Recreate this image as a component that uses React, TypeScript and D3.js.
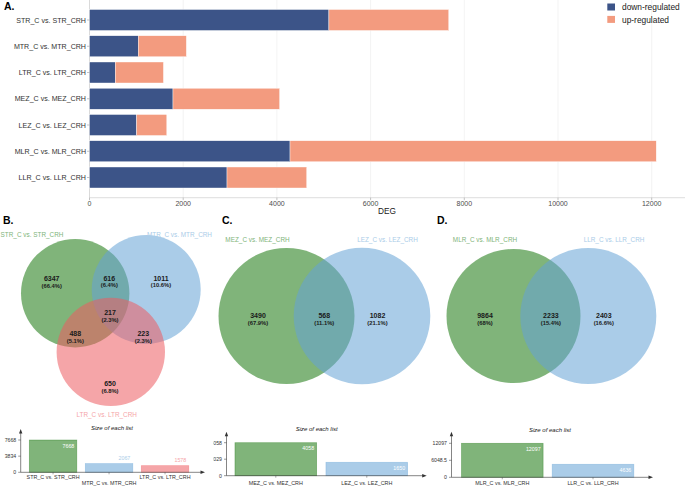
import React from "react";
import * as d3 from "d3";

// ---------- Panel A data ----------
const comparisons = [
  "STR_C vs. STR_CRH",
  "MTR_C vs. MTR_CRH",
  "LTR_C vs. LTR_CRH",
  "MEZ_C vs. MEZ_CRH",
  "LEZ_C vs. LEZ_CRH",
  "MLR_C vs. MLR_CRH",
  "LLR_C vs. LLR_CRH",
];
const downRegulated = [5110, 1040, 550, 1782, 1005, 4280, 2935];
const upRegulated = [2558, 1027, 1028, 2276, 645, 7817, 1701];
const degTicks = [0, 2000, 4000, 6000, 8000, 10000, 12000];
const legendLabels = ["down-regulated", "up-regulated"];

// ---------- Venn data ----------
const vennBSets = ["STR_C vs. STR_CRH", "MTR_C vs. MTR_CRH", "LTR_C vs. LTR_CRH"];
const vennBSizes = [7668, 2067, 1578];
const vennBCounts = [6347, 616, 1011, 217, 488, 223, 650];
const vennBPercents = ["66.4%", "6.4%", "10.6%", "2.3%", "5.1%", "2.3%", "6.8%"];

const vennCSets = ["MEZ_C vs. MEZ_CRH", "LEZ_C vs. LEZ_CRH"];
const vennCSizes = [4058, 1650];
const vennCCounts = [3490, 568, 1082];
const vennCPercents = ["67.9%", "11.1%", "21.1%"];

const vennDSets = ["MLR_C vs. MLR_CRH", "LLR_C vs. LLR_CRH"];
const vennDSizes = [12097, 4636];
const vennDCounts = [9864, 2233, 2403];
const vennDPercents = ["68%", "15.4%", "16.6%"];

// ---------- Styles ----------
const FONT = "'Liberation Sans', Arial, Helvetica, sans-serif";
const NAVY = "#3c5488";
const SALMON = "#f39b7f";
const BASE = ["#18760d", "#64a2d5", "#ed5b61"];
const LIGHT = ["#80b47a", "#aacce8", "#f5a5a8"];
const ALPHA = 0.55;

// ---------- Layout ----------
const W = 685;
const H = 487;

function PanelA() {
  const x = d3.scaleLinear().domain([0, 12000]).range([89.5, 651.7]);
  const y = d3
    .scaleBand<string>()
    .domain(comparisons)
    .range([4.25, 193.25])
    .paddingInner(0.2)
    .paddingOuter(0.2);
  const axisY = 197.7;
  return (
    <g>
      {degTicks.map((t) => (
        <line key={"g" + t} x1={x(t)} x2={x(t)} y1={0} y2={axisY} stroke="#ebebeb" strokeWidth={0.6} />
      ))}
      <line x1={x(0)} x2={x(0)} y1={0} y2={axisY} stroke="#cfcfcf" strokeWidth={0.7} />
      <line x1={x(0)} x2={W} y1={axisY} y2={axisY} stroke="#cfcfcf" strokeWidth={0.7} />
      {comparisons.map((c, i) => {
        const yy = y(c)!;
        const bw = y.bandwidth();
        return (
          <g key={c}>
            <rect x={x(0)} y={yy} width={x(downRegulated[i]) - x(0)} height={bw} fill={NAVY} stroke="#ffffff" strokeWidth={0.4} />
            <rect
              x={x(downRegulated[i])}
              y={yy}
              width={x(downRegulated[i] + upRegulated[i]) - x(downRegulated[i])}
              height={bw}
              fill={SALMON}
              stroke="#ffffff"
              strokeWidth={0.4}
            />
            <line x1={x(0) - 2.5} x2={x(0)} y1={yy + bw / 2} y2={yy + bw / 2} stroke="#888" strokeWidth={0.5} />
            <text x={x(0) - 3.5} y={yy + bw / 2 + 2.5} textAnchor="end" fontSize={7.1} fill="#333" fontFamily={FONT}>
              {c}
            </text>
          </g>
        );
      })}
      {degTicks.map((t) => (
        <g key={"t" + t}>
          <line x1={x(t)} x2={x(t)} y1={axisY} y2={axisY + 2.5} stroke="#888" strokeWidth={0.5} />
          <text x={x(t)} y={axisY + 8.6} textAnchor="middle" fontSize={7} fill="#4d4d4d" fontFamily={FONT}>
            {t}
          </text>
        </g>
      ))}
      <text x={387} y={214} textAnchor="middle" fontSize={8.3} fill="#1a1a1a" fontFamily={FONT}>
        DEG
      </text>
      {legendLabels.map((l, i) => (
        <g key={l}>
          <rect x={607.3} y={3.5 + i * 12.4} width={7.7} height={7} fill={i === 0 ? NAVY : SALMON} />
          <text x={622} y={10.3 + i * 12.4} fontSize={8.4} fill="#1a1a1a" fontFamily={FONT}>
            {l}
          </text>
        </g>
      ))}
      <text x={4} y={10} fontSize={10.5} fontWeight="bold" fill="#000" fontFamily={FONT}>
        A.
      </text>
    </g>
  );
}

type Circ = { cx: number; cy: number; r: number };

function Venn({
  circles,
  sets,
  setPos,
  counts,
  percents,
  labelPos,
}: {
  circles: Circ[];
  sets: string[];
  setPos: number[][];
  counts: number[];
  percents: string[];
  labelPos: number[][];
}) {
  return (
    <g>
      {circles.map((c, i) => (
        <circle key={i} cx={c.cx} cy={c.cy} r={c.r} fill={BASE[i]} fillOpacity={ALPHA} />
      ))}
      {sets.map((s, i) => (
        <text key={s} x={setPos[i][0]} y={setPos[i][1] + 2.3} textAnchor="middle" fontSize={6.4} fill={LIGHT[i]} fontFamily={FONT}>
          {s}
        </text>
      ))}
      {counts.map((n, i) => (
        <g key={i}>
          <text x={labelPos[i][0]} y={labelPos[i][1] + 2.5} textAnchor="middle" fontSize={7} fontWeight="bold" fill="#1a1a1a" fontFamily={FONT}>
            {n}
          </text>
          <text x={labelPos[i][0]} y={labelPos[i][1] + 9.3} textAnchor="middle" fontSize={5.8} fontWeight="bold" fill="#1a1a1a" fontFamily={FONT}>
            ({percents[i]})
          </text>
        </g>
      ))}
    </g>
  );
}

function SizeBars({
  names,
  sizes,
  axisX,
  baseY,
  topY,
  maxPx,
  xEnd,
  rangeEnd,
  padInner,
  padOuter,
  labelRows,
  titleX,
  titleY,
}: {
  names: string[];
  sizes: number[];
  axisX: number;
  baseY: number;
  topY: number;
  maxPx: number;
  xEnd: number;
  rangeEnd: number;
  padInner: number;
  padOuter: number;
  labelRows: number[];
  titleX: number;
  titleY: number;
}) {
  const mx = d3.max(sizes)!;
  const y = d3.scaleLinear().domain([0, mx]).range([baseY, maxPx]);
  const x = d3.scaleBand<string>().domain(names).range([axisX, rangeEnd]).paddingInner(padInner).paddingOuter(padOuter);
  const ticks = [0, mx / 2, mx];
  return (
    <g fontFamily={FONT}>
      <text x={titleX} y={titleY} textAnchor="middle" fontSize={6} fontStyle="italic" fill="#1a1a1a">
        Size of each list
      </text>
      {names.map((n, i) => {
        const bx = x(n)!;
        const bw = x.bandwidth();
        const top = y(sizes[i]);
        const h = baseY - top;
        const inside = h >= 10;
        return (
          <g key={n}>
            <rect x={bx} y={top} width={bw} height={h} fill={LIGHT[i]} stroke={BASE[i]} strokeOpacity={0.45} strokeWidth={0.7} />
            <text
              x={bx + bw - 2.5}
              y={inside ? top + 7.5 : top - 3.5}
              textAnchor="end"
              fontSize={5.3}
              fill={inside ? "#ffffff" : LIGHT[i]}
            >
              {sizes[i]}
            </text>
            <line x1={bx + bw / 2} x2={bx + bw / 2} y1={baseY} y2={baseY + 2} stroke="#555" strokeWidth={0.5} />
            <text x={bx + bw / 2} y={labelRows[i]} textAnchor="middle" fontSize={5.4} fill="#333">
              {n}
            </text>
          </g>
        );
      })}
      <line x1={axisX} x2={axisX} y1={baseY} y2={topY + 3} stroke="#333" strokeWidth={0.6} />
      <path d={`M${axisX},${topY} L${axisX - 1.7},${topY + 4.5} L${axisX + 1.7},${topY + 4.5} Z`} fill="#333" />
      <line x1={axisX} x2={xEnd - 3} y1={baseY} y2={baseY} stroke="#333" strokeWidth={0.6} />
      <path d={`M${xEnd},${baseY} L${xEnd - 4.5},${baseY - 1.7} L${xEnd - 4.5},${baseY + 1.7} Z`} fill="#333" />
      {ticks.map((t) => (
        <g key={t}>
          <line x1={axisX - 2.5} x2={axisX} y1={y(t)} y2={y(t)} stroke="#333" strokeWidth={0.5} />
          <text x={axisX - 4.5} y={y(t) + 1.9} textAnchor="end" fontSize={5.2} fill="#333">
            {String(t)}
          </text>
        </g>
      ))}
    </g>
  );
}

export default function App() {
  const circlesB: Circ[] = [
    { cx: 75.2, cy: 293.2, r: 54.2 },
    { cx: 146.2, cy: 289.5, r: 54.5 },
    { cx: 110.8, cy: 351.9, r: 54.2 },
  ];
  const labelPosB = [
    [51.7, 278.3],
    [109.3, 278],
    [161, 278],
    [110, 312.3],
    [75.3, 333.3],
    [143.3, 333.3],
    [110, 383.3],
  ];
  const circlesC: Circ[] = [
    { cx: 286.5, cy: 316, r: 68 },
    { cx: 362, cy: 316, r: 68.3 },
  ];
  const circlesD: Circ[] = [
    { cx: 513.5, cy: 316, r: 67 },
    { cx: 588.3, cy: 316, r: 68 },
  ];
  const twoPos = (c: Circ[]) => [
    [c[0].cx - 28.5, 315.7],
    [(c[0].cx + c[1].cx) / 2, 315.7],
    [c[1].cx + 15.5, 315.7],
  ];

  return (
    <svg width={W} height={H} style={{ position: "absolute", left: 0, top: 0, background: "#fff" }} fontFamily={FONT}>
      <defs>
        <clipPath id="clipC">
          <rect x={213.5} y={210} width={240} height={277} />
        </clipPath>
      </defs>
      <rect x={0} y={0} width={W} height={H} fill="#fff" />
      <PanelA />

      {/* Panel B */}
      <text x={3} y={224} fontSize={10.5} fontWeight="bold" fontFamily={FONT}>
        B.
      </text>
      <Venn
        circles={circlesB}
        sets={vennBSets}
        setPos={[
          [32, 235],
          [179.5, 235],
          [106.7, 415],
        ]}
        counts={vennBCounts}
        percents={vennBPercents}
        labelPos={labelPosB}
      />
      <SizeBars
        names={vennBSets}
        sizes={vennBSizes}
        axisX={20.7}
        baseY={472.3}
        topY={429}
        maxPx={440}
        xEnd={205}
        rangeEnd={197.4}
        padInner={0.152}
        padOuter={0.154}
        labelRows={[479.3, 484.8, 479.3]}
        titleX={112}
        titleY={430}
      />

      {/* Panel C */}
      <text x={222} y={224} fontSize={10.5} fontWeight="bold" fontFamily={FONT}>
        C.
      </text>
      <g clipPath="url(#clipC)">
        <Venn
          circles={circlesC}
          sets={vennCSets}
          setPos={[
            [257.5, 239.3],
            [387.5, 239.3],
          ]}
          counts={vennCCounts}
          percents={vennCPercents}
          labelPos={twoPos(circlesC)}
        />
        <SizeBars
          names={vennCSets}
          sizes={vennCSizes}
          axisX={226.5}
          baseY={475.7}
          topY={431.7}
          maxPx={442.7}
          xEnd={426.7}
          rangeEnd={416.1}
          padInner={0.102}
          padOuter={0.093}
          labelRows={[484.8, 484.8]}
          titleX={316.7}
          titleY={430.5}
        />
      </g>

      {/* Panel D */}
      <text x={437} y={224} fontSize={10.5} fontWeight="bold" fontFamily={FONT}>
        D.
      </text>
      <Venn
        circles={circlesD}
        sets={vennDSets}
        setPos={[
          [485, 239.3],
          [614, 239.3],
        ]}
        counts={vennDCounts}
        percents={vennDPercents}
        labelPos={twoPos(circlesD)}
      />
      <SizeBars
        names={vennDSets}
        sizes={vennDSizes}
        axisX={451.5}
        baseY={477.3}
        topY={431.7}
        maxPx={443.3}
        xEnd={653}
        rangeEnd={643.8}
        padInner={0.1}
        padOuter={0.11}
        labelRows={[485, 485]}
        titleX={550}
        titleY={431.5}
      />
    </svg>
  );
}
